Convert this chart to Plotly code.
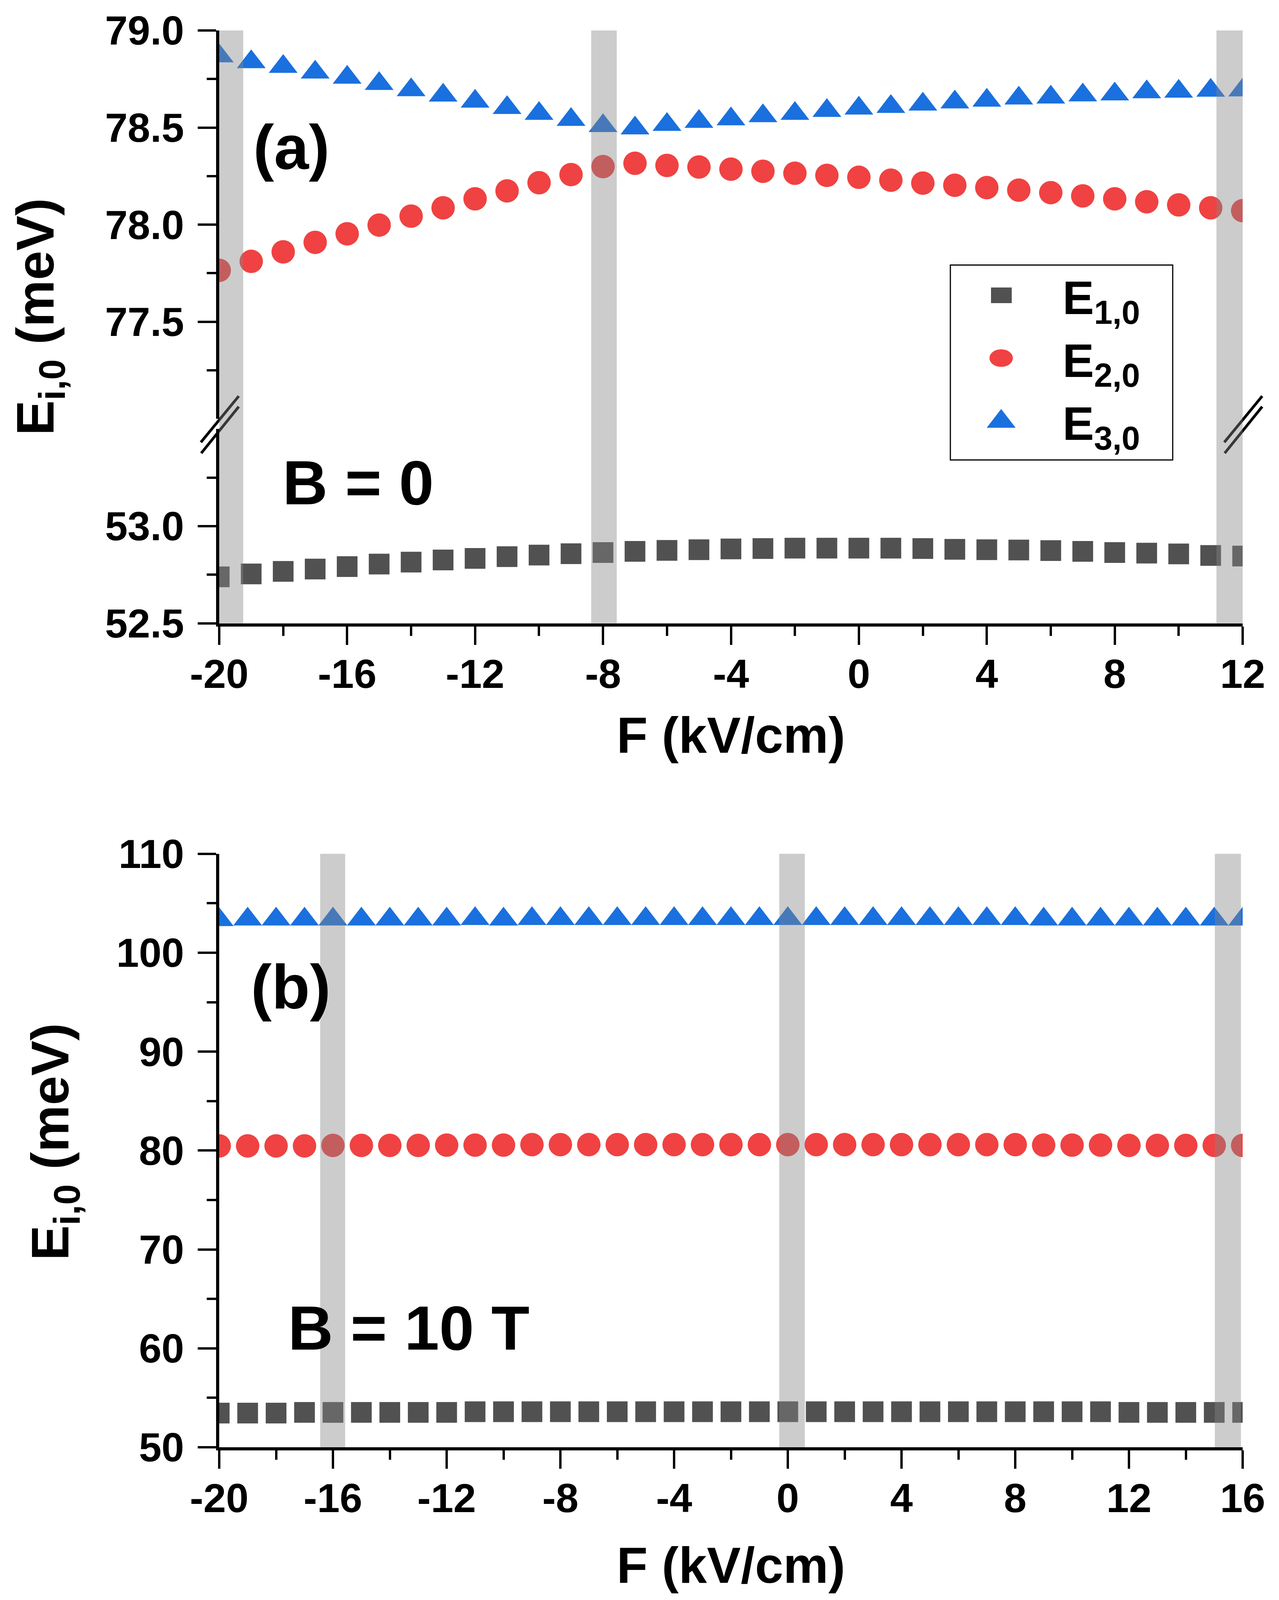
import plotly.graph_objects as go

# panel (a): B = 0
F_a = [-20, -19, -18, -17, -16, -15, -14, -13, -12, -11, -10, -9, -8, -7, -6, -5, -4,
       -3, -2, -1, 0, 1, 2, 3, 4, 5, 6, 7, 8, 9, 10, 11, 12]
E1_a = [52.739, 52.754, 52.767, 52.779, 52.792, 52.805, 52.815, 52.826, 52.834, 52.843,
        52.851, 52.858, 52.864, 52.870, 52.875, 52.879, 52.883, 52.885, 52.887, 52.887,
        52.887, 52.887, 52.885, 52.881, 52.879, 52.877, 52.874, 52.870, 52.864, 52.861,
        52.857, 52.849, 52.846]
E2_a = [77.765, 77.811, 77.860, 77.909, 77.953, 77.998, 78.044, 78.087, 78.133, 78.174,
        78.216, 78.258, 78.299, 78.316, 78.305, 78.297, 78.286, 78.275, 78.265, 78.254,
        78.244, 78.229, 78.214, 78.203, 78.191, 78.178, 78.165, 78.148, 78.133, 78.118,
        78.102, 78.087, 78.072]
E3_a = [78.868, 78.838, 78.814, 78.785, 78.758, 78.726, 78.694, 78.666, 78.635, 78.602,
        78.572, 78.541, 78.509, 78.497, 78.515, 78.531, 78.544, 78.560, 78.572, 78.587,
        78.599, 78.608, 78.620, 78.631, 78.640, 78.651, 78.656, 78.667, 78.672, 78.683,
        78.686, 78.691, 78.693]

# panel (b): B = 10 T
F_b = [-20, -19, -18, -17, -16, -15, -14, -13, -12, -11, -10, -9, -8, -7, -6, -5, -4,
       -3, -2, -1, 0, 1, 2, 3, 4, 5, 6, 7, 8, 9, 10, 11, 12, 13, 14, 15, 16]
E1_b = [53.46, 53.46, 53.46, 53.52, 53.52, 53.52, 53.52, 53.52, 53.52, 53.59, 53.59,
        53.59, 53.59, 53.59, 53.59, 53.59, 53.59, 53.59, 53.59, 53.59, 53.59, 53.59,
        53.59, 53.59, 53.59, 53.59, 53.59, 53.59, 53.59, 53.59, 53.59, 53.59, 53.52,
        53.52, 53.52, 53.52, 53.52]
E2_b = [80.47, 80.47, 80.47, 80.47, 80.52, 80.52, 80.52, 80.52, 80.55, 80.55, 80.55,
        80.60, 80.60, 80.60, 80.60, 80.60, 80.60, 80.60, 80.60, 80.60, 80.60, 80.60,
        80.60, 80.60, 80.60, 80.60, 80.60, 80.60, 80.60, 80.55, 80.55, 80.55, 80.52,
        80.52, 80.52, 80.52, 80.52]
E3_b = [103.32, 103.38, 103.38, 103.38, 103.38, 103.38, 103.38, 103.38, 103.38, 103.43,
        103.38, 103.43, 103.43, 103.43, 103.43, 103.43, 103.43, 103.43, 103.43, 103.43,
        103.43, 103.43, 103.43, 103.43, 103.43, 103.43, 103.43, 103.43, 103.43, 103.38,
        103.38, 103.38, 103.38, 103.38, 103.38, 103.38, 103.38]

xticks_a = [-20, -16, -12, -8, -4, 0, 4, 8, 12]
xticks_b = [-20, -16, -12, -8, -4, 0, 4, 8, 12, 16]
yticks_a_top = [77.5, 78.0, 78.5, 79.0]
yticks_a_bot = [52.5, 53.0]
yticks_b = [50, 60, 70, 80, 90, 100, 110]

bands_a = [(-20.12, -19.25), (-8.37, -7.57), (11.18, 12.0)]
bands_b = [(-16.45, -15.57), (-0.3, 0.6), (15.02, 15.94)]

names = ['E<sub>1,0</sub>', 'E<sub>2,0</sub>', 'E<sub>3,0</sub>']
colors = ['#515151', '#F04242', '#1A70DE']
symbols = ['square', 'circle', 'triangle-up']
sizes = [53, 60, 64]

FONT = 'Liberation Sans'

# the visible page is about 4096 px tall, so the layout measured on the
# 3273x4696 original is squeezed vertically to fit it
SY = 4096 / 4696
PAGE = 8  # body margin of the html page


def fx(px):
    return px - PAGE


def fy(py):
    return py * SY - PAGE


W, H = 3273 - 2 * PAGE, 4096 - 2 * PAGE
L, R, T, B = fx(561), fx(3180), fy(75), fy(4248)


def xp(px):
    return (fx(px) - L) / (R - L)


def yp(py):
    return (B - fy(py)) / (B - T)


def axis(mirror=False, standoff=0, **kw):
    d = dict(showline=True, linecolor='black', linewidth=8, showgrid=False, zeroline=False,
             ticks='inside' if mirror else 'outside', ticklen=47, tickwidth=6, tickcolor='black',
             tickfont=dict(family=FONT, size=104, color='black', weight='bold'),
             ticklabelstandoff=standoff)
    if mirror:
        d['showticklabels'] = False
    minor = kw.pop('minor', {})
    d['minor'] = dict(ticks='inside' if mirror else 'outside', ticklen=24, tickwidth=6,
                      tickcolor='black', **minor)
    d.update(kw)
    return d


fig = go.Figure()

for i, (ys, ax) in enumerate([(E1_a, 'y2'), (E2_a, 'y'), (E3_a, 'y')]):
    fig.add_trace(go.Scatter(x=F_a, y=ys, xaxis='x', yaxis=ax, mode='markers', name=names[i],
                             marker=dict(symbol=symbols[i], size=sizes[i], color=colors[i],
                                         line=dict(width=0)),
                             showlegend=False))

for i, ys in enumerate([E1_b, E2_b, E3_b]):
    fig.add_trace(go.Scatter(x=F_b, y=ys, xaxis='x2', yaxis='y3', mode='markers', name=names[i],
                             marker=dict(symbol=symbols[i], size=sizes[i], color=colors[i],
                                         line=dict(width=0)),
                             showlegend=False))

xt_a = dict(range=[-20, 12], tickmode='array', tickvals=xticks_a, ticktext=[str(t) for t in xticks_a],
            minor=dict(tickmode='linear', tick0=-20, dtick=2))
xt_b = dict(range=[-20, 16], tickmode='array', tickvals=xticks_b, ticktext=[str(t) for t in xticks_b],
            minor=dict(tickmode='linear', tick0=-20, dtick=2))
yt_top = dict(range=[77, 79], tickmode='array', tickvals=yticks_a_top,
              ticktext=['%.1f' % v for v in yticks_a_top],
              minor=dict(tickmode='linear', tick0=77.25, dtick=0.5))
yt_bot = dict(range=[52.5, 53.5], tickmode='array', tickvals=yticks_a_bot,
              ticktext=['%.1f' % v for v in yticks_a_bot],
              minor=dict(tickmode='linear', tick0=52.75, dtick=0.5))
yt_b = dict(range=[50, 110], tickmode='array', tickvals=yticks_b, ticktext=[str(v) for v in yticks_b],
            minor=dict(tickmode='linear', tick0=55, dtick=10))

fig.update_layout(
    width=W, height=H,
    margin=dict(l=L, r=W - R, t=T, b=H - B, pad=0),
    paper_bgcolor='white', plot_bgcolor='white',
    font=dict(family=FONT, color='black'),
    showlegend=False,
    xaxis=axis(standoff=-14, domain=[0, 1], anchor='y2', **dict(xt_a)),
    xaxis2=axis(standoff=-14, domain=[0, 1], anchor='y3', **dict(xt_b)),
    xaxis3=axis(mirror=True, overlaying='x', anchor='y', side='top', **dict(xt_a)),
    xaxis4=axis(mirror=True, overlaying='x2', anchor='y3', side='top', **dict(xt_b)),
    yaxis=axis(standoff=14, domain=[yp(1219), 1], anchor='x', **dict(yt_top)),
    yaxis2=axis(standoff=14, domain=[yp(1821), yp(1249)], anchor='x', **dict(yt_bot)),
    yaxis3=axis(standoff=14, domain=[0, yp(2500)], anchor='x2', **dict(yt_b)),
    yaxis4=axis(mirror=True, overlaying='y', anchor='x', side='right', **dict(yt_top)),
    yaxis5=axis(mirror=True, overlaying='y2', anchor='x', side='right', **dict(yt_bot)),
    yaxis6=axis(mirror=True, overlaying='y3', anchor='x2', side='right', **dict(yt_b)),
)

shapes = []
# axis break marks
for dx in [0, 3180 - 561]:
    for (x0, y0, x1, y1) in [(514, 1288, 611, 1152), (515, 1320, 611, 1183)]:
        shapes.append(dict(type='line', xref='paper', yref='paper', layer='above',
                           x0=xp(x0 + dx), y0=yp(y0), x1=xp(x1 + dx), y1=yp(y1),
                           line=dict(color='black', width=7)))

# legend box and keys
shapes.append(dict(type='rect', xref='paper', yref='paper', layer='above',
                   x0=xp(2432), y0=yp(1340), x1=xp(3001), y1=yp(766),
                   line=dict(color='black', width=3), fillcolor='rgba(0,0,0,0)'))
shapes.append(dict(type='rect', xref='paper', yref='paper', layer='above',
                   x0=xp(2536), y0=yp(878), x1=xp(2589), y1=yp(832),
                   line=dict(width=0), fillcolor=colors[0]))
shapes.append(dict(type='circle', xref='paper', yref='paper', layer='above',
                   x0=xp(2532), y0=yp(1066), x1=xp(2592), y1=yp(1014),
                   line=dict(width=0), fillcolor=colors[1]))
shapes.append(dict(type='path', xref='paper', yref='paper', layer='above',
                   path='M %f,%f L %f,%f L %f,%f Z' % (xp(2525), yp(1245), xp(2599), yp(1245),
                                                       xp(2562), yp(1190)),
                   line=dict(width=0), fillcolor=colors[2]))

# highlighted field values
for x0, x1 in bands_a:
    shapes.append(dict(type='rect', xref='x', yref='paper', layer='above',
                       x0=x0, x1=x1, y0=yp(1821), y1=1,
                       line=dict(width=0), fillcolor='rgba(133,133,133,0.42)'))
for x0, x1 in bands_b:
    shapes.append(dict(type='rect', xref='x2', yref='paper', layer='above',
                       x0=x0, x1=x1, y0=0, y1=yp(2500),
                       line=dict(width=0), fillcolor='rgba(133,133,133,0.42)'))

fig.update_layout(shapes=shapes)


def label(text, px, py, size, xanchor='center', **kw):
    fig.add_annotation(text=text, xref='paper', yref='paper', x=xp(px), y=yp(py),
                       xanchor=xanchor, yanchor='middle', showarrow=False,
                       font=dict(family=FONT, size=size, color='black', weight='bold'), **kw)


label('(a)', 746, 419, 160)
label('B = 0', 916, 1407, 160)
label('(b)', 744, 2892, 160)
label('B = 10 T', 1046, 3897, 160)

label('F (kV/cm)', 1870, 2150, 130)
label('F (kV/cm)', 1870, 4595, 130)
label('E<sub>i,0</sub> (meV)', 100, 918, 135, textangle=-90)
label('E<sub>i,0</sub> (meV)', 138, 3348, 135, textangle=-90)

for name, py in zip(names, [872, 1057, 1242]):
    label(name, 2717, py, 121, xanchor='left')

fig.write_html("out.html")
